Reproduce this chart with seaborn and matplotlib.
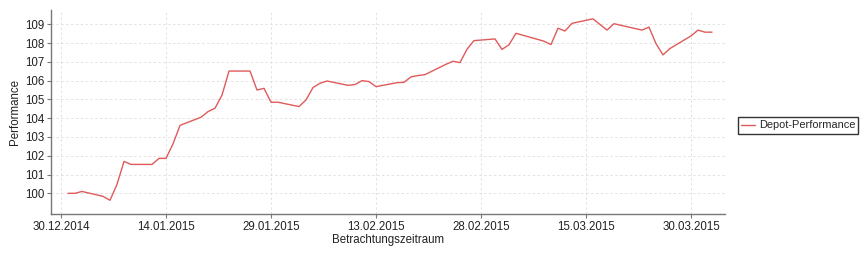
import matplotlib
matplotlib.use("Agg")
import matplotlib.pyplot as plt
import seaborn as sns
import pandas as pd

dates = ["2014-12-31", "2015-01-01", "2015-01-02", "2015-01-05", "2015-01-06", "2015-01-07",
         "2015-01-08", "2015-01-09", "2015-01-12", "2015-01-13", "2015-01-14", "2015-01-15",
         "2015-01-16", "2015-01-19", "2015-01-20", "2015-01-21", "2015-01-22", "2015-01-23",
         "2015-01-26", "2015-01-27", "2015-01-28", "2015-01-29", "2015-01-30", "2015-02-02",
         "2015-02-03", "2015-02-04", "2015-02-05", "2015-02-06", "2015-02-09", "2015-02-10",
         "2015-02-11", "2015-02-12", "2015-02-13", "2015-02-16", "2015-02-17", "2015-02-18",
         "2015-02-19", "2015-02-20", "2015-02-23", "2015-02-24", "2015-02-25", "2015-02-26",
         "2015-02-27", "2015-03-02", "2015-03-03", "2015-03-04", "2015-03-05", "2015-03-09",
         "2015-03-10", "2015-03-11", "2015-03-12", "2015-03-13", "2015-03-16", "2015-03-18",
         "2015-03-19", "2015-03-23", "2015-03-24", "2015-03-25", "2015-03-26", "2015-03-27",
         "2015-03-30", "2015-03-31", "2015-04-01", "2015-04-02"]
performance = [100.00, 100.00, 100.10, 99.84, 99.63, 100.48,
               101.70, 101.54, 101.54, 101.86, 101.86, 102.63,
               103.62, 104.05, 104.35, 104.53, 105.23, 106.51,
               106.51, 105.50, 105.59, 104.85, 104.85, 104.62,
               104.97, 105.63, 105.86, 105.98, 105.75, 105.79,
               106.00, 105.95, 105.68, 105.89, 105.91, 106.20,
               106.27, 106.32, 106.87, 107.03, 106.96, 107.67,
               108.13, 108.22, 107.66, 107.91, 108.52, 108.10,
               107.92, 108.79, 108.64, 109.05, 109.29, 108.69,
               109.03, 108.69, 108.85, 107.97, 107.37, 107.71,
               108.38, 108.69, 108.58, 108.58]
tick_dates = ["2014-12-30", "2015-01-14", "2015-01-29", "2015-02-13",
              "2015-02-28", "2015-03-15", "2015-03-30"]
y_ticks = [100, 101, 102, 103, 104, 105, 106, 107, 108, 109]
series_name = "Depot-Performance"

df = pd.DataFrame({"Datum": pd.to_datetime(dates), "Performance": performance,
                   "Serie": series_name})

sns.set_theme(style="white")
plt.rcParams["font.family"] = ["Liberation Sans", "DejaVu Sans"]

fig = plt.figure(figsize=(8.6, 2.64), dpi=100)
ax = fig.add_axes([51/860, 50/264, (725-51)/860, (214-10)/264])

sns.lineplot(data=df, x="Datum", y="Performance", hue="Serie",
             palette=["#e05a5a"], linewidth=1.0, ax=ax)

ticks = pd.to_datetime(tick_dates)
ax.set_xticks(ticks)
ax.set_xticklabels([t.strftime("%d.%m.%Y") for t in ticks])
ax.set_yticks(y_ticks)
ax.set_xlim(pd.Timestamp("2014-12-30") - pd.Timedelta(days=1.43),
            pd.Timestamp("2014-12-30") + pd.Timedelta(days=94.86))
ax.set_ylim(98.9, 109.76)

ax.grid(True, color="#e2e2e2", linestyle=(0, (2.5, 2.5)), linewidth=0.7)
for s in ["top", "right"]:
    ax.spines[s].set_visible(False)
for s in ["left", "bottom"]:
    ax.spines[s].set_color("#777777")
    ax.spines[s].set_linewidth(1.0)
ax.tick_params(axis="both", which="major", length=3, width=0.8, color="#777777",
               labelsize=8.3, labelcolor="#222222", pad=2, bottom=True, left=True)

ax.set_xlabel("Betrachtungszeitraum", fontsize=8.3, color="#222222", labelpad=1)
ax.set_ylabel("Performance", fontsize=8.3, color="#222222", labelpad=3)

leg = ax.legend(loc="center left", bbox_to_anchor=(1.019, 0.434), frameon=True,
                fancybox=False, edgecolor="black", fontsize=7.9, handlelength=1.3,
                handletextpad=0.3, borderpad=0.3, borderaxespad=0)
leg.get_frame().set_linewidth(1.0)

fig.savefig("out.png", dpi=100)
